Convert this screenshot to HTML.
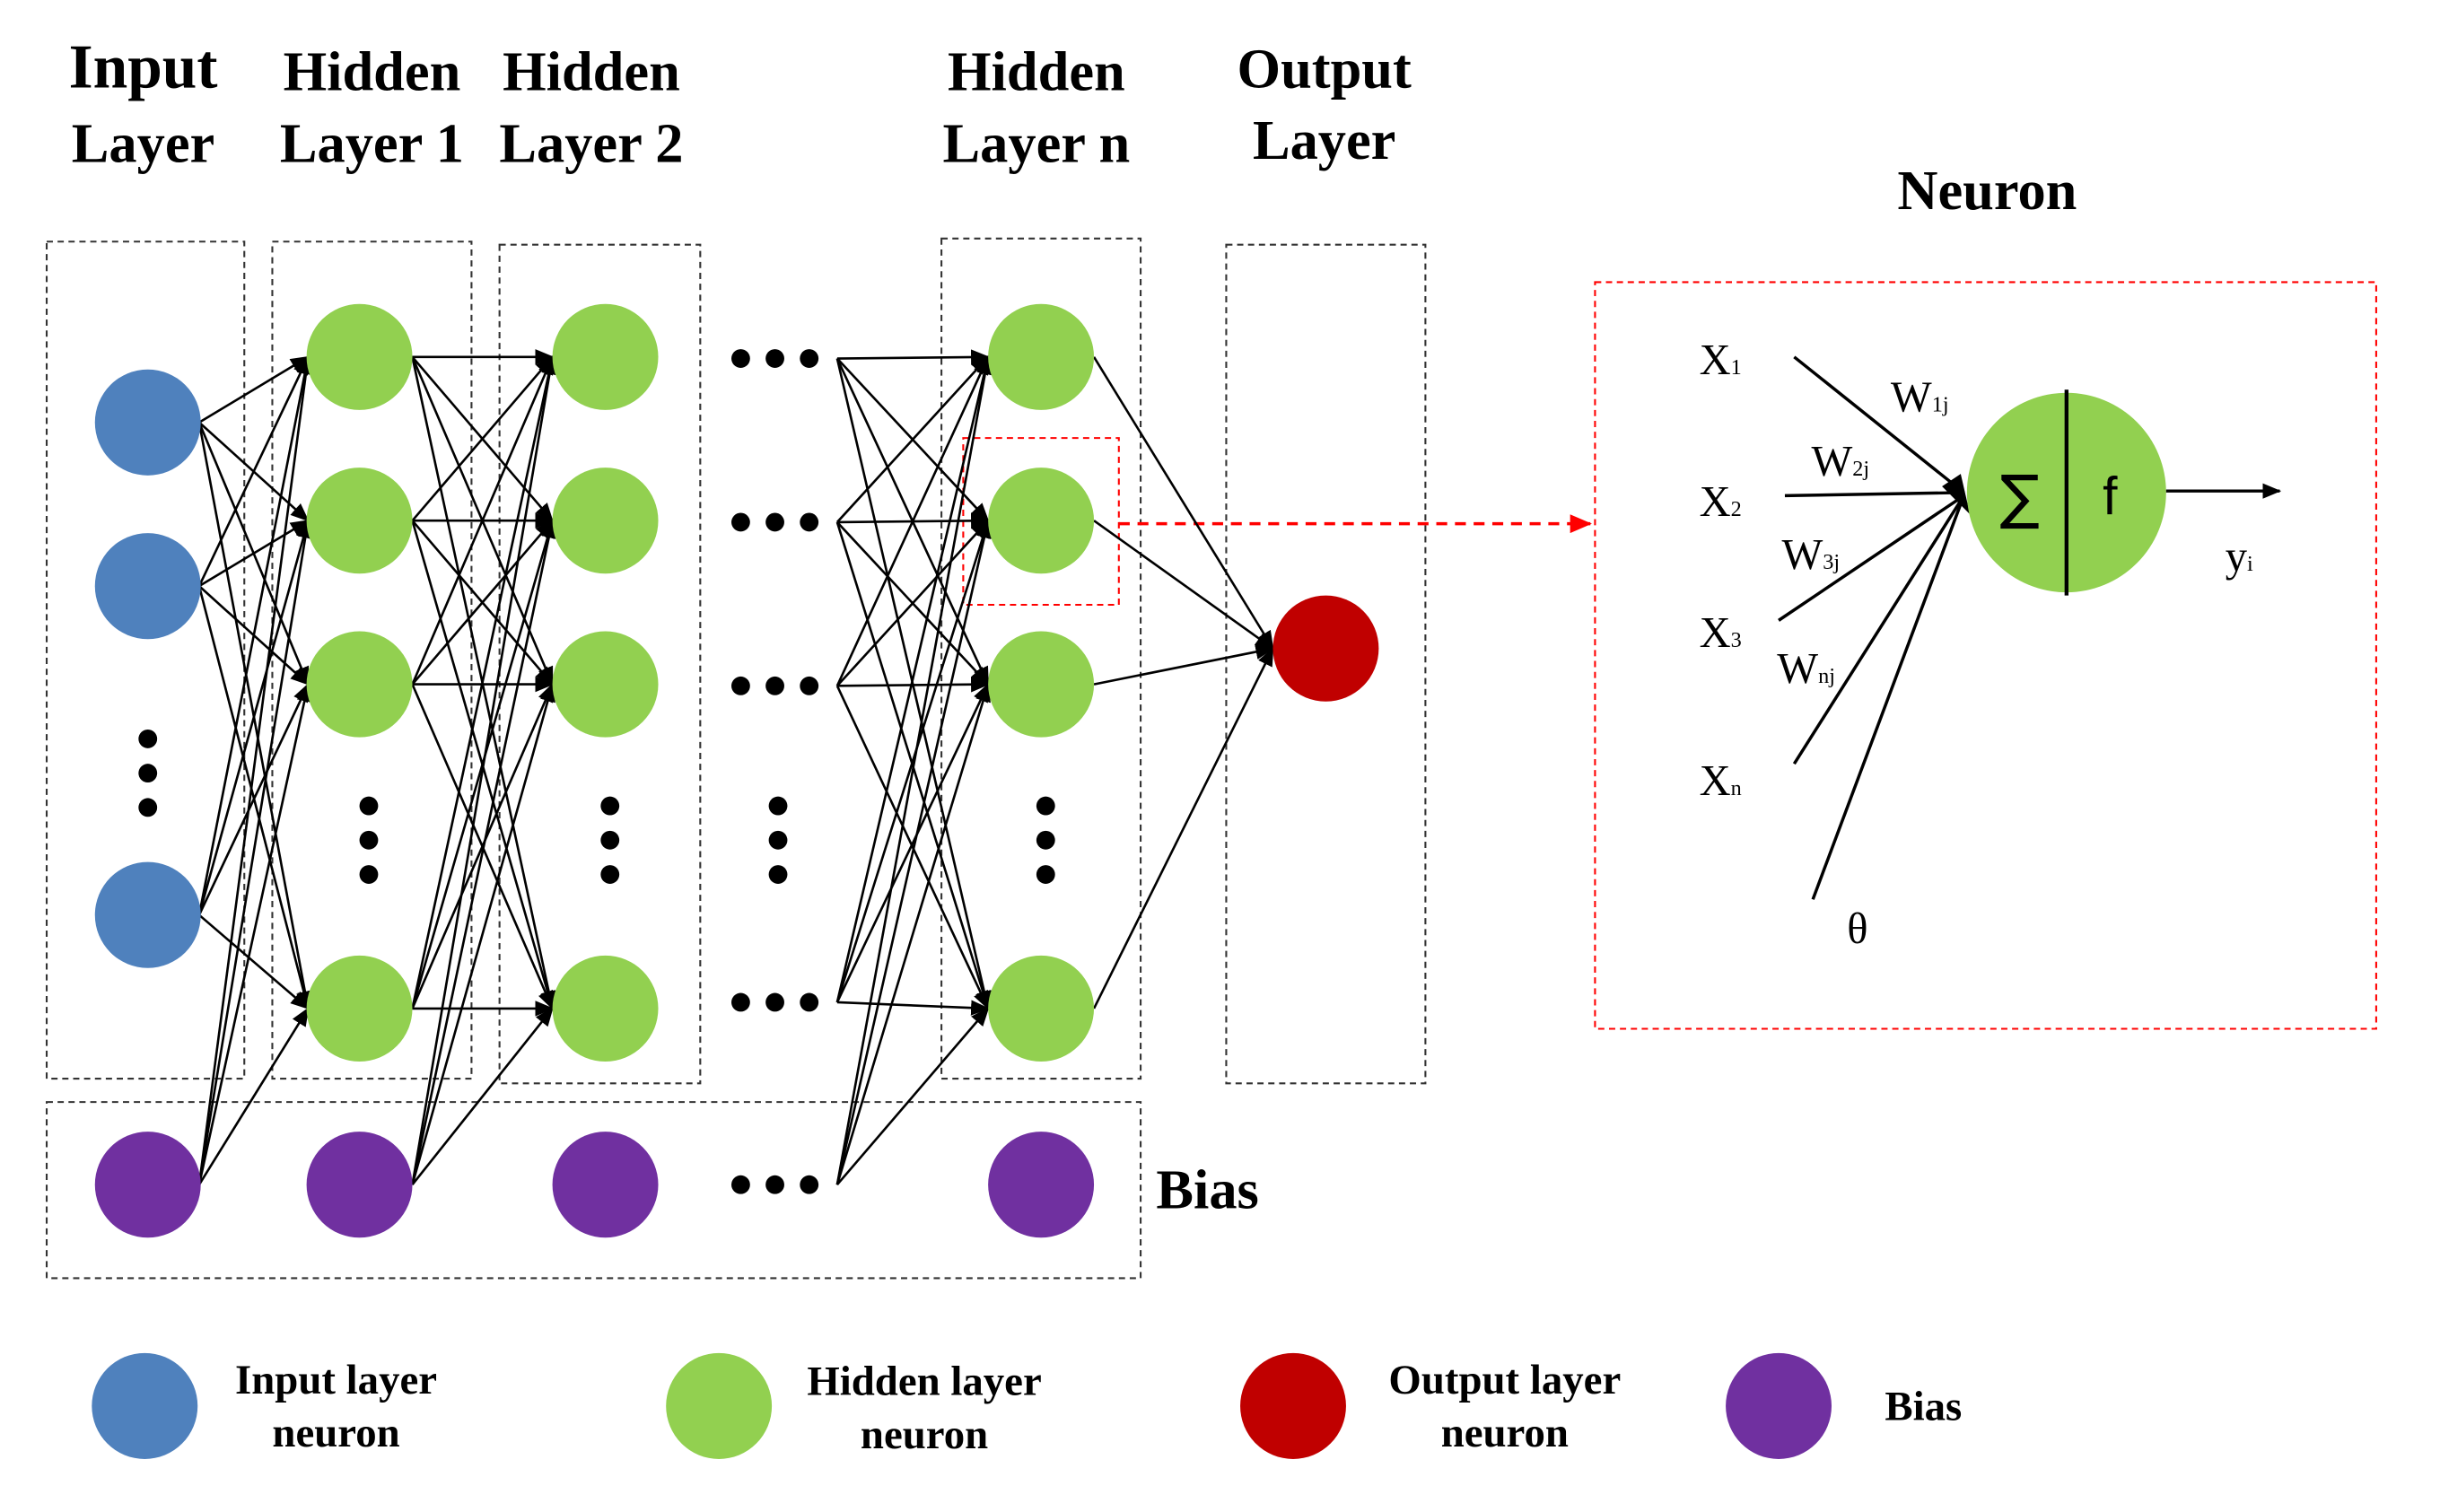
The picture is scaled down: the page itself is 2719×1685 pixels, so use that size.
<!DOCTYPE html>
<html><head><meta charset="utf-8"><style>
html,body{margin:0;padding:0;background:#fff;}
svg{display:block;}
text{font-family:"Liberation Serif",serif;}
.t{font-weight:bold;font-size:36px;text-anchor:middle;}
.l{font-weight:bold;font-size:27px;text-anchor:middle;}
.n{font-size:28px;}
</style></head><body>
<svg width="2719" height="1685" viewBox="0 0 1568 970" preserveAspectRatio="none" xmlns="http://www.w3.org/2000/svg">
<defs>
<marker id="a" markerWidth="12" markerHeight="10" refX="11" refY="5" orient="auto" markerUnits="userSpaceOnUse"><path d="M0,0 L12,5 L0,10 Z" fill="#000"/></marker>
<marker id="r" markerWidth="14" markerHeight="12" refX="13" refY="6" orient="auto" markerUnits="userSpaceOnUse"><path d="M0,0 L14,6 L0,12 Z" fill="#f00"/></marker>
</defs>
<text class="t" x="92" y="56" style="font-size:40px">Input</text>
<text class="t" x="92" y="104">Layer</text>
<text class="t" x="239" y="58">Hidden</text>
<text class="t" x="239" y="104">Layer 1</text>
<text class="t" x="380" y="58">Hidden</text>
<text class="t" x="380" y="104">Layer 2</text>
<text class="t" x="666" y="58">Hidden</text>
<text class="t" x="666" y="104">Layer n</text>
<text class="t" x="851" y="56">Output</text>
<text class="t" x="851" y="102">Layer</text>
<text class="t" x="1277" y="134">Neuron</text>
<g fill="none" stroke="#333" stroke-width="1.2" stroke-dasharray="4,3">
<rect x="30" y="155" width="127" height="537"/>
<rect x="175" y="155" width="128" height="537"/>
<rect x="321" y="157" width="129" height="538"/>
<rect x="605" y="153" width="128" height="539"/>
<rect x="788" y="157" width="128" height="538"/>
<rect x="30" y="707" width="703" height="113"/>
</g>
<g fill="none" stroke="#f00" stroke-width="1.2" stroke-dasharray="4,3">
<rect x="1025" y="181" width="502" height="479"/>
<rect x="619" y="281" width="100" height="107"/>
</g>
<line x1="719" y1="336" x2="1022" y2="336" stroke="#f00" stroke-width="2" stroke-dasharray="7,5" marker-end="url(#r)"/>
<g stroke="#000" stroke-width="1.5" marker-end="url(#a)">
<line x1="128" y1="271" x2="198" y2="229"/><line x1="128" y1="271" x2="198" y2="334"/><line x1="128" y1="271" x2="198" y2="439"/><line x1="128" y1="271" x2="198" y2="647"/>
<line x1="128" y1="376" x2="198" y2="229"/><line x1="128" y1="376" x2="198" y2="334"/><line x1="128" y1="376" x2="198" y2="439"/><line x1="128" y1="376" x2="198" y2="647"/>
<line x1="128" y1="587" x2="198" y2="229"/><line x1="128" y1="587" x2="198" y2="334"/><line x1="128" y1="587" x2="198" y2="439"/><line x1="128" y1="587" x2="198" y2="647"/>
<line x1="128" y1="760" x2="198" y2="229"/><line x1="128" y1="760" x2="198" y2="334"/><line x1="128" y1="760" x2="198" y2="439"/><line x1="128" y1="760" x2="198" y2="647"/>

<line x1="265" y1="229" x2="355" y2="229"/><line x1="265" y1="229" x2="355" y2="334"/><line x1="265" y1="229" x2="355" y2="439"/><line x1="265" y1="229" x2="355" y2="647"/>
<line x1="265" y1="334" x2="355" y2="229"/><line x1="265" y1="334" x2="355" y2="334"/><line x1="265" y1="334" x2="355" y2="439"/><line x1="265" y1="334" x2="355" y2="647"/>
<line x1="265" y1="439" x2="355" y2="229"/><line x1="265" y1="439" x2="355" y2="334"/><line x1="265" y1="439" x2="355" y2="439"/><line x1="265" y1="439" x2="355" y2="647"/>
<line x1="265" y1="647" x2="355" y2="229"/><line x1="265" y1="647" x2="355" y2="334"/><line x1="265" y1="647" x2="355" y2="439"/><line x1="265" y1="647" x2="355" y2="647"/>
<line x1="265" y1="760" x2="355" y2="229"/><line x1="265" y1="760" x2="355" y2="334"/><line x1="265" y1="760" x2="355" y2="439"/><line x1="265" y1="760" x2="355" y2="647"/>

<line x1="538" y1="230" x2="635" y2="229"/><line x1="538" y1="230" x2="635" y2="334"/><line x1="538" y1="230" x2="635" y2="439"/><line x1="538" y1="230" x2="635" y2="647"/>
<line x1="538" y1="335" x2="635" y2="229"/><line x1="538" y1="335" x2="635" y2="334"/><line x1="538" y1="335" x2="635" y2="439"/><line x1="538" y1="335" x2="635" y2="647"/>
<line x1="538" y1="440" x2="635" y2="229"/><line x1="538" y1="440" x2="635" y2="334"/><line x1="538" y1="440" x2="635" y2="439"/><line x1="538" y1="440" x2="635" y2="647"/>
<line x1="538" y1="643" x2="635" y2="229"/><line x1="538" y1="643" x2="635" y2="334"/><line x1="538" y1="643" x2="635" y2="439"/><line x1="538" y1="643" x2="635" y2="647"/>
<line x1="538" y1="760" x2="635" y2="229"/><line x1="538" y1="760" x2="635" y2="334"/><line x1="538" y1="760" x2="635" y2="439"/><line x1="538" y1="760" x2="635" y2="647"/>

<line x1="703" y1="229" x2="818" y2="416"/><line x1="703" y1="334" x2="818" y2="416"/><line x1="703" y1="439" x2="818" y2="416"/><line x1="703" y1="647" x2="818" y2="416"/>
</g>
<g fill="#4F81BD"><circle cx="95" cy="271" r="34"/><circle cx="95" cy="376" r="34"/><circle cx="95" cy="587" r="34"/></g>
<g fill="#92D050">
<circle cx="231" cy="229" r="34"/><circle cx="231" cy="334" r="34"/><circle cx="231" cy="439" r="34"/><circle cx="231" cy="647" r="34"/>
<circle cx="389" cy="229" r="34"/><circle cx="389" cy="334" r="34"/><circle cx="389" cy="439" r="34"/><circle cx="389" cy="647" r="34"/>
<circle cx="669" cy="229" r="34"/><circle cx="669" cy="334" r="34"/><circle cx="669" cy="439" r="34"/><circle cx="669" cy="647" r="34"/>
</g>
<circle cx="852" cy="416" r="34" fill="#C00000"/>
<g fill="#7030A0"><circle cx="95" cy="760" r="34"/><circle cx="231" cy="760" r="34"/><circle cx="389" cy="760" r="34"/><circle cx="669" cy="760" r="34"/></g>
<g fill="#000">
<circle cx="95" cy="474" r="6"/><circle cx="95" cy="496" r="6"/><circle cx="95" cy="518" r="6"/>
<circle cx="237" cy="517" r="6"/><circle cx="237" cy="539" r="6"/><circle cx="237" cy="561" r="6"/>
<circle cx="392" cy="517" r="6"/><circle cx="392" cy="539" r="6"/><circle cx="392" cy="561" r="6"/>
<circle cx="500" cy="517" r="6"/><circle cx="500" cy="539" r="6"/><circle cx="500" cy="561" r="6"/>
<circle cx="672" cy="517" r="6"/><circle cx="672" cy="539" r="6"/><circle cx="672" cy="561" r="6"/>
<circle cx="476" cy="230" r="6"/><circle cx="498" cy="230" r="6"/><circle cx="520" cy="230" r="6"/>
<circle cx="476" cy="335" r="6"/><circle cx="498" cy="335" r="6"/><circle cx="520" cy="335" r="6"/>
<circle cx="476" cy="440" r="6"/><circle cx="498" cy="440" r="6"/><circle cx="520" cy="440" r="6"/>
<circle cx="476" cy="643" r="6"/><circle cx="498" cy="643" r="6"/><circle cx="520" cy="643" r="6"/>
<circle cx="476" cy="760" r="6"/><circle cx="498" cy="760" r="6"/><circle cx="520" cy="760" r="6"/>
</g>
<text class="t" x="776" y="775">Bias</text>
<g stroke="#000" stroke-width="2">
<line x1="1153" y1="229" x2="1262" y2="316"/>
<line x1="1147" y1="318" x2="1262" y2="316"/>
<line x1="1143" y1="398" x2="1262" y2="318"/>
<line x1="1153" y1="490" x2="1262" y2="318"/>
<line x1="1165" y1="577" x2="1262" y2="318"/>
</g>
<path d="M1248,312 L1260,304 L1266,330 Z" fill="#000"/>
<circle cx="1328" cy="316" r="64" fill="#92D050"/>
<line x1="1328" y1="250" x2="1328" y2="382" stroke="#000" stroke-width="2.5"/>
<text x="1298" y="332" font-size="38" text-anchor="middle" style="font-family:'DejaVu Sans',sans-serif">∑</text>
<text x="1356" y="330" font-size="34" text-anchor="middle" style="font-family:'Liberation Sans',sans-serif">f</text>
<line x1="1392" y1="315" x2="1465" y2="315" stroke="#000" stroke-width="2" marker-end="url(#a)"/>
<text class="n" x="1092" y="240">X<tspan font-size="14">1</tspan></text>
<text class="n" x="1092" y="331">X<tspan font-size="14">2</tspan></text>
<text class="n" x="1092" y="415">X<tspan font-size="14">3</tspan></text>
<text class="n" x="1092" y="510">X<tspan font-size="14">n</tspan></text>
<text class="n" x="1187" y="605">θ</text>
<text class="n" x="1215" y="264">W<tspan font-size="14">1j</tspan></text>
<text class="n" x="1164" y="305">W<tspan font-size="14">2j</tspan></text>
<text class="n" x="1145" y="365">W<tspan font-size="14">3j</tspan></text>
<text class="n" x="1142" y="438">W<tspan font-size="14">nj</tspan></text>
<text class="n" x="1430" y="366">y<tspan font-size="14">i</tspan></text>
<circle cx="93" cy="902" r="34" fill="#4F81BD"/>
<circle cx="462" cy="902" r="34" fill="#92D050"/>
<circle cx="831" cy="902" r="34" fill="#C00000"/>
<circle cx="1143" cy="902" r="34" fill="#7030A0"/>
<text class="l" x="216" y="894">Input layer</text>
<text class="l" x="216" y="928">neuron</text>
<text class="l" x="594" y="895">Hidden layer</text>
<text class="l" x="594" y="929">neuron</text>
<text class="l" x="967" y="894">Output layer</text>
<text class="l" x="967" y="928">neuron</text>
<text class="l" x="1236" y="911">Bias</text>
</svg>
</body></html>
